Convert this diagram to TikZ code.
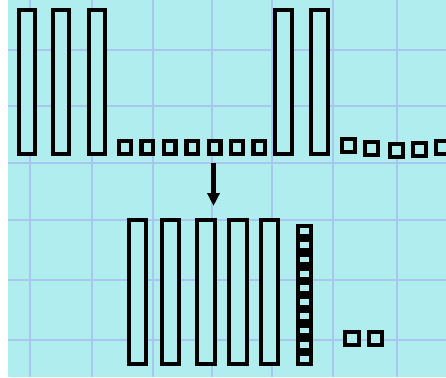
\documentclass[tikz,border=0pt]{standalone}
\usetikzlibrary{arrows.meta}
\definecolor{bgc}{HTML}{AFEDEE}
\definecolor{gridc}{HTML}{A8C6EE}
\begin{document}
\begin{tikzpicture}[x=1pt,y=-1pt,
  box/.style={draw=black,line width=3.8pt,fill=bgc},
  sq/.style={draw=black,line width=4.4pt,fill=bgc},
  gline/.style={draw=gridc,line width=1.6pt},
  arr/.style={draw=black,line width=4.5pt,-{Triangle[length=13pt,width=12pt]}}]
\useasboundingbox (0,0) rectangle (446,377);
\fill[white] (0,0) rectangle (446,377);
\fill[bgc] (8,0) rectangle (446,377);
% grid
\foreach \gx in {30,92,153,212,272,333,397} \draw[gline] (\gx,0) -- (\gx,377);
\foreach \gy in {50,106,163,220,280,340} \draw[gline] (8,\gy) -- (446,\gy);
% top bars
\foreach \a/\b in {17/37,51/71,87/107,273/294,309/330}
  \draw[box] (\a+1.9,9.9) rectangle (\b-1.9,153.6);
% left small squares
\foreach \i in {0,...,6}
  \draw[sq] ({117+22.4*\i+2.2},141.2) rectangle ({133+22.4*\i-2.2},153.8);
% right small squares (slightly jittered)
\foreach \a/\t in {340/137,363/140,388/142,411/141,434/139}
  \draw[sq] (\a+2.2,\t+2.2) rectangle (\a+14.8,\t+14.8);
% arrow
\coordinate (aS) at (213.5,163);
\coordinate (aE) at (213.5,206);
\draw[arr] (aS) -- (aE);
% bottom bars
\foreach \a/\b in {127/148,160/181,195/217,227/249,259/280}
  \draw[box] (\a+1.9,219.9) rectangle (\b-1.9,363.6);
% stacked column of squares
\foreach \i in {0,...,9}
  \draw[sq] (298.2,{224+14.2*\i+2}) rectangle (310.8,{224+14.2*(\i+1)-2});
% two squares bottom right
\draw[sq] (345.2,332.2) rectangle (358.8,344.8);
\draw[sq] (369.2,332.2) rectangle (381.8,344.8);
\end{tikzpicture}
\end{document}
